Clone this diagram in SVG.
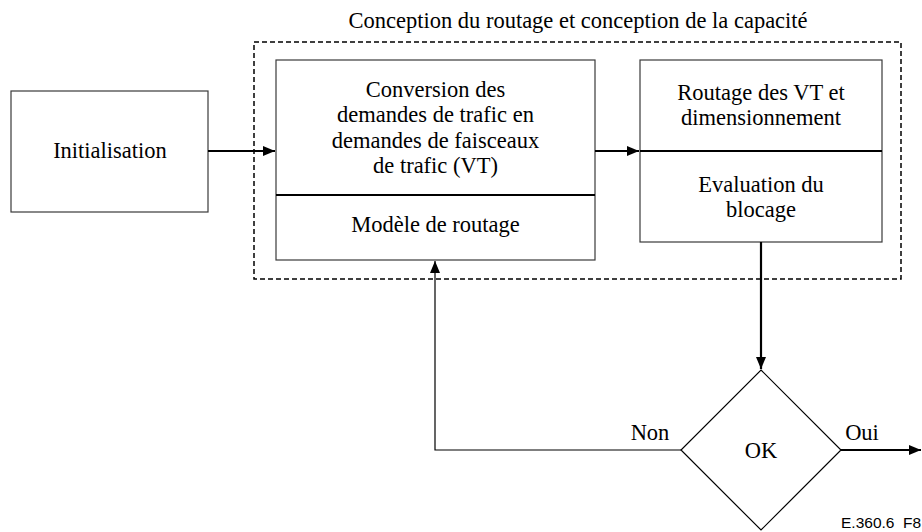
<svg xmlns="http://www.w3.org/2000/svg" width="922" height="532" viewBox="0 0 922 532">
  <style>
    .box { fill: #ffffff; stroke: #3a3a3a; stroke-width: 1.2; }
    .div { stroke: #000000; stroke-width: 2.2; fill: none; }
    .t { font-family: "Liberation Serif", "Times New Roman", serif; font-size: 22.5px; fill: #000000; text-anchor: middle; }
    .flow { stroke: #000000; stroke-width: 2.2; fill: none; }
    .thin { stroke: #000000; stroke-width: 1.2; fill: none; }
    .ref { font-family: "Liberation Sans", Arial, sans-serif; font-size: 15.5px; fill: #000000; white-space: pre; }
  </style>
  <defs>
    <marker id="arrow" viewBox="0 0 12 10" refX="12" refY="5" markerWidth="12" markerHeight="10" markerUnits="userSpaceOnUse" orient="auto">
      <path d="M0,0 L12,5 L0,10 Z" fill="#000000"/>
    </marker>
  </defs>
  <rect width="922" height="532" fill="#ffffff"/>

  <!-- enclosing design loop -->
  <g id="design-frame">
    <text class="t" x="578" y="28">Conception du routage et conception de la capacité</text>
    <rect x="254" y="42" width="647" height="237" fill="none" stroke="#000000" stroke-width="1.5" stroke-dasharray="5,3"/>
  </g>

  <g id="init">
    <rect class="box" x="11" y="91" width="197" height="121"/>
    <text class="t" x="110" y="158">Initialisation</text>
  </g>

  <g id="conversion">
    <rect class="box" x="276" y="60" width="319" height="200"/>
    <line class="div" x1="276" y1="195" x2="595" y2="195"/>
    <text class="t" x="435.5" y="97">Conversion des</text>
    <text class="t" x="435.5" y="122">demandes de trafic en</text>
    <text class="t" x="435.5" y="148">demandes de faisceaux</text>
    <text class="t" x="435.5" y="173">de trafic (VT)</text>
    <text class="t" x="435.5" y="232">Modèle de routage</text>
  </g>

  <g id="routing">
    <rect class="box" x="640" y="60" width="242" height="182"/>
    <line class="div" x1="640" y1="151" x2="882" y2="151"/>
    <text class="t" x="761" y="100">Routage des VT et</text>
    <text class="t" x="761" y="125">dimensionnement</text>
    <text class="t" x="761" y="192">Evaluation du</text>
    <text class="t" x="761" y="217">blocage</text>
  </g>

  <g id="decision">
    <polygon points="761,370 841,450 761,530 681,450" fill="#ffffff" stroke="#000000" stroke-width="1.2"/>
    <text class="t" x="761" y="458">OK</text>
  </g>

  <g id="connectors">
    <line class="flow" x1="208" y1="151" x2="275" y2="151" marker-end="url(#arrow)"/>
    <line class="flow" x1="595" y1="151" x2="639" y2="151" marker-end="url(#arrow)"/>
    <line class="flow" x1="761" y1="242" x2="761" y2="369" marker-end="url(#arrow)"/>
    <polyline class="thin" points="681,450 435,450 435,272"/>
    <line class="thin" x1="435" y1="272" x2="435" y2="261" marker-end="url(#arrow)"/>
    <line class="flow" x1="841" y1="450" x2="921" y2="450" marker-end="url(#arrow)"/>
    <text class="t" x="650" y="440">Non</text>
    <text class="t" x="862" y="440">Oui</text>
  </g>

  <text class="ref" x="841" y="528" xml:space="preserve">E.360.6  F8</text>
</svg>
